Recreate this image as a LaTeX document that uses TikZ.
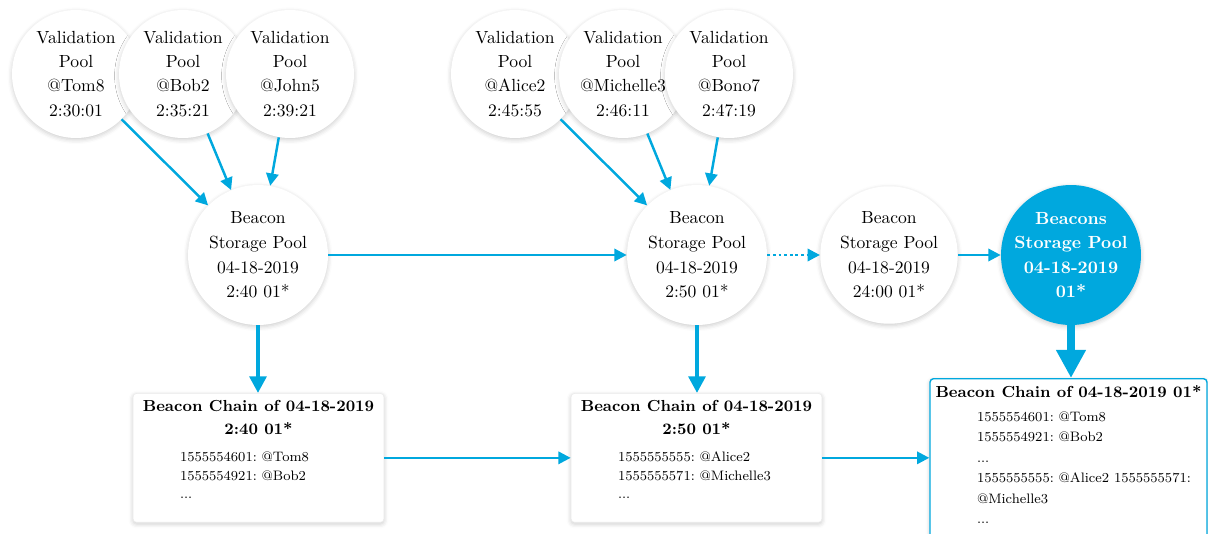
\documentclass[tikz,border=0pt]{standalone}
\usepackage{amsmath}
\usepackage{tikz}
\usepackage{xcolor}
\usetikzlibrary{arrows.meta,shadows.blur}
\definecolor{beacon-blue}{HTML}{00A8DE}
\tikzset{
    soft-shadow/.style = {blur shadow={shadow xshift=0pt, shadow yshift=-1pt, shadow opacity=20, shadow blur radius=2.5pt}},
    pool-circle/.style = {circle, fill=white, minimum size=2.56cm, inner sep=0pt, align=center, font=\fontsize{10}{13.7}\selectfont, soft-shadow},
    storage-circle/.style = {pool-circle, minimum size=2.8cm, font=\fontsize{10}{14}\selectfont},
    storage-main/.style = {storage-circle, fill=beacon-blue, text=white, inner sep=-4pt, font=\fontsize{10}{14}\selectfont\bfseries},
    chain-box/.style = {draw=black!8, fill=white, rectangle, rounded corners=2pt, anchor=north, inner xsep=0.1cm, inner ysep=0.14cm, soft-shadow},
    flow/.style = {draw=beacon-blue, line width=1.4pt, -{Triangle[length=7pt, width=7pt]}},
    flow-thick/.style = {flow, line width=2.3pt, -{Triangle[length=9.5pt, width=9.5pt]}},
    flow-heavy/.style = {flow, line width=4pt, -{Triangle[length=16pt, width=16pt]}},
}
\begin{document}
\begin{tikzpicture}[x=0.02cm, y=-0.02cm]
\useasboundingbox (0,0) rectangle (1208,534);
\clip (0,0) rectangle (1208,534);
% validation pools
\node [pool-circle] (tom) at (76,74) {Validation\\Pool\\@Tom8\\2:30:01};
\node [pool-circle] (bob) at (183,74) {Validation\\Pool\\@Bob2\\2:35:21};
\node [pool-circle] (john) at (290,74) {Validation\\Pool\\@John5\\2:39:21};
\node [pool-circle] (alice) at (515,74) {Validation\\Pool\\@Alice2\\2:45:55};
\node [pool-circle] (michelle) at (623,74) {Validation\\Pool\\@Michelle3\\2:46:11};
\node [pool-circle] (bono) at (729,74) {Validation\\Pool\\@Bono7\\2:47:19};
% storage pools
\node [storage-circle] (storage-a) at (258,255) {Beacon\\Storage Pool\\04-18-2019\\2:40 01*};
\node [storage-circle] (storage-b) at (697,255) {Beacon\\Storage Pool\\04-18-2019\\2:50 01*};
\node [storage-circle, minimum size=2.75cm] (storage-c) at (889,255) {Beacon\\Storage Pool\\04-18-2019\\24:00 01*};
\node [storage-main] (storage-day) at (1071,255) {Beacons\\Storage Pool\\04-18-2019\\01*};
% beacon chains
\node [chain-box] (chain-a) at (258.5,393) {\begin{minipage}[t][2.3cm][t]{4.82cm}
    \centering\fontsize{9.1}{13.2}\selectfont\bfseries Beacon Chain of 04-18-2019\\2:40 01*\par
    \vspace{5pt}\raggedright\leftskip=0.84cm\frenchspacing\fontsize{7.8}{10.5}\selectfont\mdseries
    1555554601: @Tom8\\1555554921: @Bob2\\...
\end{minipage}};
\node [chain-box] (chain-b) at (696.5,393) {\begin{minipage}[t][2.3cm][t]{4.82cm}
    \centering\fontsize{9.1}{13.2}\selectfont\bfseries Beacon Chain of 04-18-2019\\2:50 01*\par
    \vspace{5pt}\raggedright\leftskip=0.84cm\frenchspacing\fontsize{7.8}{10.5}\selectfont\mdseries
    1555555555: @Alice2\\1555555571: @Michelle3\\...
\end{minipage}};
\node [chain-box, draw=beacon-blue, line width=0.8pt, inner xsep=0.04cm] (chain-c) at (1068.5,378) {\begin{minipage}[t][3.2cm][t]{5.46cm}
    \centering\fontsize{9.1}{13.2}\selectfont\bfseries Beacon Chain of 04-18-2019 01*\par
    \vspace{2pt}\raggedright\leftskip=0.9cm\frenchspacing\fontsize{7.8}{11.6}\selectfont\mdseries
    1555554601: @Tom8\\1555554921: @Bob2\\...\\1555555555: @Alice2 1555555571:\\@Michelle3\\...
\end{minipage}};
% connectors
\draw [flow] (tom) -- (storage-a);
\draw [flow] (bob) -- (storage-a);
\draw [flow] (john) -- (storage-a);
\draw [flow] (alice) -- (storage-b);
\draw [flow] (michelle) -- (storage-b);
\draw [flow] (bono) -- (storage-b);
\draw [flow] (storage-a) -- (storage-b);
\draw [flow, dash pattern=on 1.6pt off 1.6pt] (storage-b) -- (storage-c);
\draw [flow] (storage-c) -- (storage-day);
\draw [flow-thick] (storage-a) -- (storage-a |- chain-a.north);
\draw [flow-thick] (storage-b) -- (storage-b |- chain-b.north);
\draw [flow-heavy] (storage-day) -- (storage-day |- chain-c.north);
\draw [flow] (chain-a.east) -- (chain-b.west);
\draw [flow] (chain-b.east) -- (chain-b.east -| chain-c.west);
\end{tikzpicture}
\end{document}
